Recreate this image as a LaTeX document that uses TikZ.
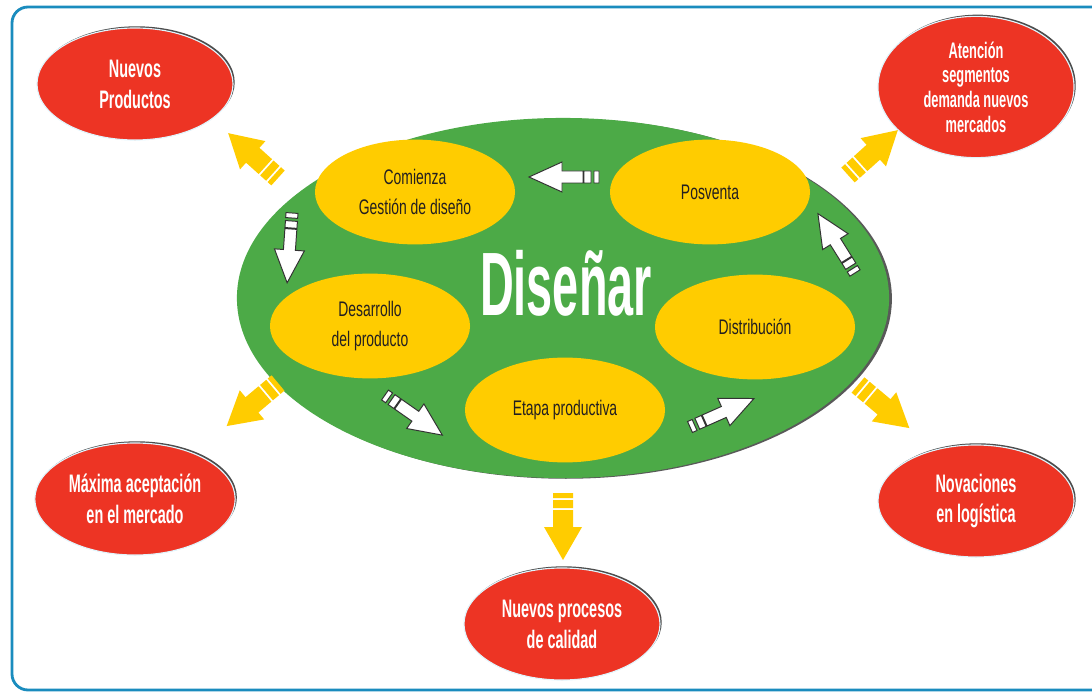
\documentclass[tikz,border=0pt]{standalone}
\usepackage{fontspec}
\setmainfont{Liberation Sans}
\newfontfamily\redfont[FakeStretch=0.57]{Liberation Sans}
\newfontfamily\yelfont[FakeStretch=0.66]{Liberation Sans}
\newfontfamily\bigfont[FakeStretch=0.52]{Liberation Sans}
\usetikzlibrary{shapes.geometric,shadows}

\definecolor{frameblue}{RGB}{26,140,190}
\definecolor{leafgreen}{RGB}{76,170,71}
\definecolor{sunyellow}{RGB}{255,204,0}
\definecolor{hotred}{RGB}{237,52,36}
\definecolor{inkgray}{RGB}{35,31,32}

\tikzset{
    outer/.style={ellipse, fill=hotred, draw=cyan!12, line width=0.8pt,
        minimum width=4.9cm, minimum height=2.8cm, align=center, text=white,
        font={\redfont\bfseries\fontsize{18}{22}\selectfont},
        drop shadow={shadow xshift=1.2pt, shadow yshift=1.2pt, fill=black!70, opacity=1}},
    inner/.style={ellipse, fill=sunyellow, minimum width=5cm, minimum height=2.62cm,
        align=center, text=inkgray, font={\yelfont\fontsize{15}{21}\selectfont}},
    whitearrow/.pic={
        \path[draw=black!80, fill=white, line width=0.7pt]
            (0,-6) rectangle (5,6)
            (8,-6) rectangle (15,6)
            (16,-6) -- (37,-6) -- (37,-15) -- (70,0) -- (37,15) -- (37,6) -- (16,6) -- cycle;
    },
    yellowarrow/.pic={
        \fill[sunyellow]
            (0,-10) rectangle (5,10)
            (7,-10) rectangle (15,10)
            (17,-10) -- (34,-10) -- (34,-19) -- (67,0) -- (34,19) -- (34,10) -- (17,10) -- cycle;
    }
}

\begin{document}
\begin{tikzpicture}[x=0.025cm, y=0.025cm]
    % Page and frame
    \useasboundingbox (0,0) rectangle (1092,693);
    \clip (0,0) rectangle (1092,693);
    \fill[white] (0,0) rectangle (1092,693);
    \draw[frameblue, line width=2pt, rounded corners=0.4cm] (12,3) rectangle (1112,686);

    % Central ellipse
    \node[ellipse, fill=leafgreen, minimum width=16.3cm, minimum height=9cm,
        drop shadow={shadow xshift=2pt, shadow yshift=-0.5pt, fill=black!65, opacity=1}]
        (disenar) at (563,395) {};
    \node[text=white, font={\bigfont\bfseries\fontsize{64}{64}\selectfont}] (title) at (566,410) {Diseñar};

    % Stages inside
    \node[inner] (comienza) at (415,501) {Comienza\\Gestión de diseño};
    \node[inner] (posventa) at (710,501) {Posventa};
    \node[inner] (desarrollo) at (370,367) {Desarrollo\\del producto};
    \node[inner] (distribucion) at (755,366) {Distribución};
    \node[inner] (etapa) at (565,283) {Etapa productiva};

    % Outcomes
    \node[outer] (nuevos) at (135,609) {Nuevos\\Productos};
    \node[outer, font={\redfont\bfseries\fontsize{16}{17.5}\selectfont}] (atencion) at (976,606)
        {Atención\\segmentos\\demanda nuevos\\mercados};
    \node[outer] (maxima) at (135,194) {Máxima aceptación\\en el mercado};
    \node[outer] (novaciones) at (976,192) {Novaciones\\en logística};
    \node[outer] (procesos) at (562,69) {Nuevos procesos\\de calidad};

    % Cycle arrows (tail x / tail y / angle)
    \foreach \px/\py/\ang in {599/516/180, 292/480/-94, 385/298/-35, 690/266/24, 855/420/122}
        \pic[rotate=\ang] at (\px,\py) {whitearrow};

    % Outward arrows
    \foreach \px/\py/\ang in {278/515/138, 848/518/42, 278/310/-140, 858/308/-40, 563/200/-90}
        \pic[rotate=\ang] at (\px,\py) {yellowarrow};
\end{tikzpicture}
\end{document}
